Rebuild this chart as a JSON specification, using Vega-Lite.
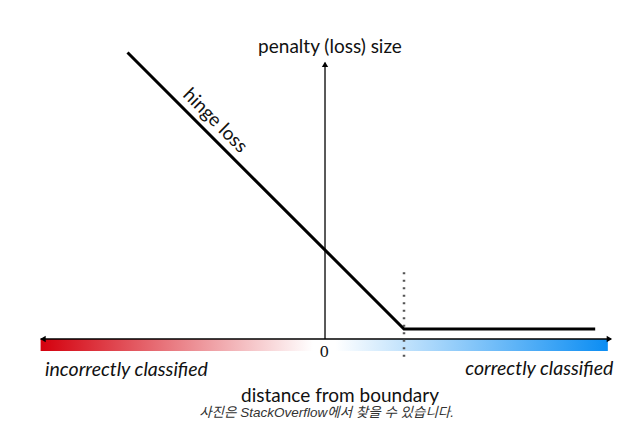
{
  "$schema": "https://vega.github.io/schema/vega-lite/v6.json",
  "width": 626,
  "height": 423,
  "autosize": {"type": "none"},
  "padding": 0,
  "background": "white",
  "config": {"view": {"stroke": null}},
  "datasets": {
    "hinge": [
      {"d": -2.5, "loss": 3.5},
      {"d": 1, "loss": 0},
      {"d": 3.42, "loss": 0}
    ],
    "band": [{"d1": -3.6, "d2": 3.58, "l1": -0.127, "l2": -0.278}],
    "haxis": [{"d1": -3.6, "d2": 3.62, "l": -0.127}],
    "vaxis": [{"d": 0, "l1": -0.127, "l2": 3.37}],
    "margin": [{"d": 1, "l1": 0.72, "l2": -0.42}],
    "arrows": [
      {"d": -3.57, "l": -0.127, "shape": "triangle-left"},
      {"d": 3.6, "l": -0.127, "shape": "triangle-right"},
      {"d": 0, "l": 3.35, "shape": "triangle-up"}
    ],
    "labels": [
      {"d": 0.063, "l": 3.57, "text": "penalty (loss) size"},
      {"d": 0.19, "l": -0.85, "text": "distance from boundary"}
    ],
    "leftLabel": [{"d": -3.544, "l": -0.519, "text": "incorrectly classified"}],
    "rightLabel": [{"d": 3.65, "l": -0.506, "text": "correctly classified"}],
    "hingeLabel": [{"d": -1.39, "l": 2.64, "text": "hinge loss"}],
    "zero": [{"d": -0.01, "l": -0.29, "text": "0"}],
    "caption": [{"d": 0.02, "l": -1.065, "text": "사진은 StackOverflow에서 찾을 수 있습니다."}]
  },
  "layer": [
    {
      "data": {"name": "band"},
      "mark": {
        "type": "rect",
        "fill": {
          "gradient": "linear", "x1": 0, "y1": 0, "x2": 1, "y2": 0,
          "stops": [
            {"offset": 0, "color": "#d4000d"},
            {"offset": 0.48, "color": "#ffffff"},
            {"offset": 0.52, "color": "#ffffff"},
            {"offset": 1, "color": "#0b8df3"}
          ]
        }
      },
      "encoding": {
        "x": {"field": "d1", "type": "quantitative", "scale": {"domain": [-4.114, 3.81], "nice": false, "zero": false}, "axis": null},
        "x2": {"field": "d2"},
        "y": {"field": "l1", "type": "quantitative", "scale": {"domain": [-1.19, 4.165], "nice": false, "zero": false}, "axis": null},
        "y2": {"field": "l2"}
      }
    },
    {
      "data": {"name": "haxis"},
      "mark": {"type": "rule", "color": "black", "strokeWidth": 1.5},
      "encoding": {
        "x": {"field": "d1", "type": "quantitative"},
        "x2": {"field": "d2"},
        "y": {"field": "l", "type": "quantitative"}
      }
    },
    {
      "data": {"name": "vaxis"},
      "mark": {"type": "rule", "color": "black", "strokeWidth": 1.3},
      "encoding": {
        "x": {"field": "d", "type": "quantitative"},
        "y": {"field": "l1", "type": "quantitative"},
        "y2": {"field": "l2"}
      }
    },
    {
      "data": {"name": "arrows"},
      "mark": {"type": "point", "filled": true, "color": "black", "size": 40, "opacity": 1},
      "encoding": {
        "x": {"field": "d", "type": "quantitative"},
        "y": {"field": "l", "type": "quantitative"},
        "shape": {"field": "shape", "type": "nominal", "scale": null, "legend": null}
      }
    },
    {
      "data": {"name": "margin"},
      "mark": {"type": "rule", "color": "#555555", "strokeWidth": 2.5, "strokeDash": [2, 5.5]},
      "encoding": {
        "x": {"field": "d", "type": "quantitative"},
        "y": {"field": "l1", "type": "quantitative"},
        "y2": {"field": "l2"}
      }
    },
    {
      "data": {"name": "hinge"},
      "mark": {"type": "line", "color": "black", "strokeWidth": 3, "strokeJoin": "miter"},
      "encoding": {
        "x": {"field": "d", "type": "quantitative"},
        "y": {"field": "loss", "type": "quantitative"}
      }
    },
    {
      "data": {"name": "labels"},
      "mark": {"type": "text", "font": "Lato", "fontSize": 19, "color": "#111111", "baseline": "middle", "align": "center"},
      "encoding": {
        "x": {"field": "d", "type": "quantitative"},
        "y": {"field": "l", "type": "quantitative"},
        "text": {"field": "text"}
      }
    },
    {
      "data": {"name": "leftLabel"},
      "mark": {"type": "text", "font": "Lato", "fontSize": 19.5, "fontStyle": "italic", "color": "#111111", "baseline": "middle", "align": "left"},
      "encoding": {
        "x": {"field": "d", "type": "quantitative"},
        "y": {"field": "l", "type": "quantitative"},
        "text": {"field": "text"}
      }
    },
    {
      "data": {"name": "rightLabel"},
      "mark": {"type": "text", "font": "Lato", "fontSize": 19.5, "fontStyle": "italic", "color": "#111111", "baseline": "middle", "align": "right"},
      "encoding": {
        "x": {"field": "d", "type": "quantitative"},
        "y": {"field": "l", "type": "quantitative"},
        "text": {"field": "text"}
      }
    },
    {
      "data": {"name": "hingeLabel"},
      "mark": {"type": "text", "font": "Lato", "fontSize": 19, "angle": 45, "color": "#111111", "baseline": "middle", "align": "center"},
      "encoding": {
        "x": {"field": "d", "type": "quantitative"},
        "y": {"field": "l", "type": "quantitative"},
        "text": {"field": "text"}
      }
    },
    {
      "data": {"name": "zero"},
      "mark": {"type": "text", "font": "DejaVu Serif", "fontSize": 15, "color": "#111111", "baseline": "middle", "align": "center"},
      "encoding": {
        "x": {"field": "d", "type": "quantitative"},
        "y": {"field": "l", "type": "quantitative"},
        "text": {"field": "text"}
      }
    },
    {
      "data": {"name": "caption"},
      "mark": {"type": "text", "font": "Liberation Sans, Noto Sans CJK KR", "fontSize": 13.5, "fontStyle": "italic", "color": "#333333", "baseline": "middle", "align": "center"},
      "encoding": {
        "x": {"field": "d", "type": "quantitative"},
        "y": {"field": "l", "type": "quantitative"},
        "text": {"field": "text"}
      }
    }
  ]
}
